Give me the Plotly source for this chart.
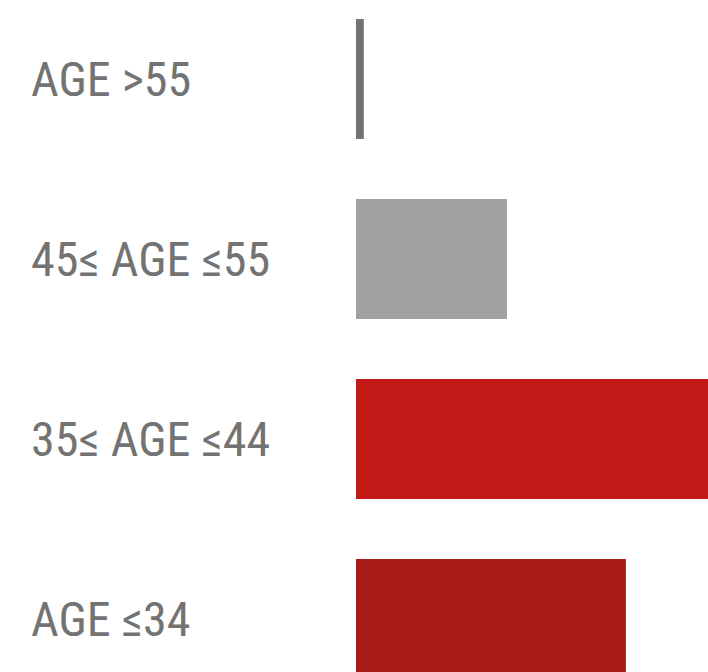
import plotly.graph_objects as go

categories = ["AGE ≤34", "35≤ AGE ≤44", "45≤ AGE ≤55", "AGE >55"]
values = [34.5, 45, 19.3, 1]
colors = ["#a81a18", "#c21b17", "#a0a0a0", "#737373"]

fig = go.Figure(
    go.Bar(
        x=values,
        y=categories,
        orientation="h",
        marker=dict(color=colors, line=dict(width=0)),
        hoverinfo="skip",
    )
)

for c in categories:
    fig.add_annotation(
        x=29 / 708, xref="paper", xanchor="left",
        y=c, yref="y", yanchor="middle",
        text=c, showarrow=False,
        font=dict(family="Roboto Condensed", size=48, color="#737373"),
    )

fig.update_layout(
    width=708, height=672,
    margin=dict(l=0, r=0, t=0, b=0),
    paper_bgcolor="white", plot_bgcolor="white",
    bargap=1 / 3,
    showlegend=False,
    xaxis=dict(domain=[356 / 708, 1], range=[0, 45], visible=False, fixedrange=True),
    yaxis=dict(categoryorder="array", categoryarray=categories,
               range=[-0.2944, 3.4389], visible=False, fixedrange=True),
)

fig.write_html("out.html", config={"displayModeBar": False},
               post_script="document.body.style.margin='0';")
